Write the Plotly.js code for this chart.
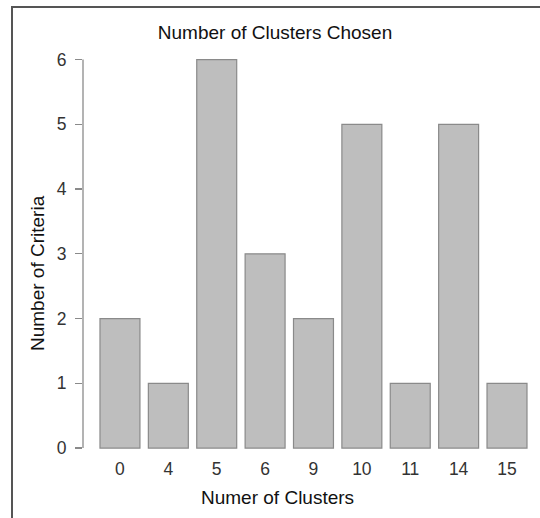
<!DOCTYPE html>
<html>
<head>
<meta charset="utf-8">
<script src="https://cdn.plot.ly/plotly-3.0.1.min.js"></script>
<style>html,body{margin:0;padding:0;background:#fff;}#chart{width:540px;height:518px;}</style>
</head>
<body>
<div id="chart"></div>
<script>
var clusters = ["0", "4", "5", "6", "9", "10", "11", "14", "15"];
var criteriaCounts = [2, 1, 6, 3, 2, 5, 1, 5, 1];
var yTicks = [0, 1, 2, 3, 4, 5, 6];

var FONT = "Liberation Sans, Arial, Helvetica, sans-serif";

var trace = {
  type: "bar",
  x: clusters,
  y: criteriaCounts,
  marker: { color: "#bebebe", line: { color: "#8a8a8a", width: 1.2 } },
  hoverinfo: "x+y"
};

var layout = {
  width: 540,
  height: 518,
  margin: { l: 83, r: 0, t: 44, b: 62 },
  paper_bgcolor: "#ffffff",
  plot_bgcolor: "#ffffff",
  showlegend: false,
  bargap: 0.174,
  font: { family: FONT, color: "#222" },
  title: {
    text: "Number of Clusters Chosen",
    font: { family: FONT, size: 19, color: "#111" },
    x: 275 / 540, xref: "container", xanchor: "center",
    y: 1 - 32 / 518, yref: "container", yanchor: "middle"
  },
  xaxis: {
    type: "category",
    range: [-0.764, 8.682],
    showline: false, showgrid: false, zeroline: false,
    ticks: "",
    tickfont: { family: FONT, size: 17.5, color: "#333" },
    fixedrange: true
  },
  yaxis: {
    range: [-0.123, 6.24],
    tickvals: yTicks,
    ticktext: yTicks.map(String),
    showline: false, showgrid: false, zeroline: false,
    ticks: "outside", ticklen: 7, tickwidth: 1.3, tickcolor: "#8a8a8a",
    ticklabelstandoff: 5,
    tickfont: { family: FONT, size: 17.5, color: "#333" },
    fixedrange: true
  },
  annotations: [
    {
      text: "Numer of Clusters",
      xref: "paper", yref: "paper",
      x: (277 - 83) / 457, y: -(497 - 456) / 412,
      xanchor: "center", yanchor: "middle",
      showarrow: false,
      font: { family: FONT, size: 19, color: "#111" }
    },
    {
      text: "Number of Criteria",
      xref: "paper", yref: "paper",
      x: (37 - 83) / 457, y: (456 - 273) / 412,
      xanchor: "center", yanchor: "middle",
      textangle: -90,
      showarrow: false,
      font: { family: FONT, size: 19, color: "#111" }
    }
  ],
  shapes: [
    {
      type: "line", xref: "paper", yref: "y",
      x0: 0, x1: 0, y0: yTicks[0], y1: yTicks[yTicks.length - 1],
      line: { color: "#8a8a8a", width: 1.3 }
    },
    {
      type: "rect", xref: "paper", yref: "paper",
      x0: (12 - 83) / 457, x1: (570 - 83) / 457,
      y0: (456 - 560) / 412, y1: (456 - 7) / 412,
      line: { color: "#555", width: 2 },
      fillcolor: "rgba(0,0,0,0)"
    }
  ]
};

Plotly.newPlot("chart", [trace], layout, { displayModeBar: false, staticPlot: true });
</script>
</body>
</html>
